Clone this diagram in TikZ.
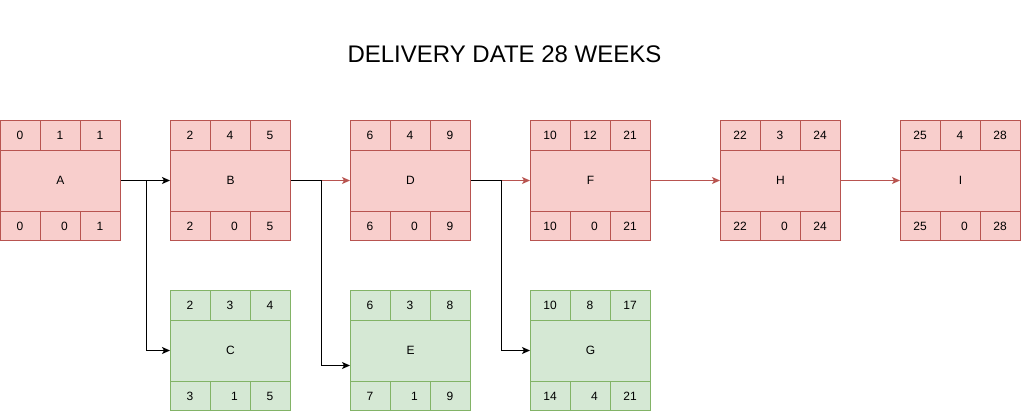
\documentclass[tikz,border=0pt]{standalone}
\usepackage{fontspec}
\setmainfont{Liberation Sans}
\usetikzlibrary{arrows.meta,positioning,calc}
\definecolor{critfill}{HTML}{F8CECC}
\definecolor{critline}{HTML}{B85450}
\definecolor{slackfill}{HTML}{D5E8D4}
\definecolor{slackline}{HTML}{82B366}
\tikzset{
    actbox/.style={rectangle, minimum width=120, minimum height=120, inner sep=0pt, line width=1pt, font=\fontsize{12}{14}\selectfont},
    critbox/.style={actbox, fill=critfill, draw=critline},
    slackbox/.style={actbox, fill=slackfill, draw=slackline},
    num/.style={inner sep=0pt, font=\fontsize{12}{14}\selectfont},
    link/.style={line width=1pt, -{Stealth[length=8pt,width=7pt,inset=2pt]}},
    critlink/.style={link, draw=critline, -{Stealth[length=8pt,width=7pt,inset=2pt,fill=critline]}},
}

\begin{document}
\begin{tikzpicture}[x=1pt,y=-1pt]
    \useasboundingbox (0,0) rectangle (1022,412);

    % Title
    \node[anchor=base, font=\fontsize{24}{29}\selectfont] (title) at (504.5,63) {DELIVERY DATE 28 WEEKS};

    % Critical path
    \foreach \n/\x/\y/\a/\b/\c/\d/\e/\f in {A/0.5/120.5/0/1/1/0/0/1, B/170.5/120.5/2/4/5/2/0/5, D/350.5/120.5/6/4/9/6/0/9,
        F/530.5/120.5/10/12/21/10/0/21, H/720.5/120.5/22/3/24/22/0/24, I/900.5/120.5/25/4/28/25/0/28} {
        \node[critbox] (\n) at (\x+60,\y+60) {\n};
        \draw[critline, line width=1pt] (\n.north west) ++(0,30) -- ++(120,0)
            (\n.south west) ++(0,-30) -- ++(120,0)
            (\n.north west) ++(40,0) -- ++(0,30) ++(40,0) -- ++(0,-30)
            (\n.south west) ++(40,0) -- ++(0,-30) ++(40,0) -- ++(0,30);
        \node[num] (\n-es) at ([shift={(20,15)}]\n.north west) {\a};
        \node[num] (\n-du) at ([shift={(60,15)}]\n.north west) {\b};
        \node[num] (\n-ef) at ([shift={(100,15)}]\n.north west) {\c};
        \node[num] (\n-ls) at ([shift={(20,-15)}]\n.south west) {\d};
        \node[num] (\n-fl) at ([shift={(64.5,-15)}]\n.south west) {\e};
        \node[num] (\n-lf) at ([shift={(100,-15)}]\n.south west) {\f};
    }

    % Activities with float
    \foreach \n/\x/\y/\a/\b/\c/\d/\e/\f in {C/170.5/290.5/2/3/4/3/1/5, E/350.5/290.5/6/3/8/7/1/9, G/530.5/290.5/10/8/17/14/4/21} {
        \node[slackbox] (\n) at (\x+60,\y+60) {\n};
        \draw[slackline, line width=1pt] (\n.north west) ++(0,30) -- ++(120,0)
            (\n.south west) ++(0,-30) -- ++(120,0)
            (\n.north west) ++(40,0) -- ++(0,30) ++(40,0) -- ++(0,-30)
            (\n.south west) ++(40,0) -- ++(0,-30) ++(40,0) -- ++(0,30);
        \node[num] (\n-es) at ([shift={(20,15)}]\n.north west) {\a};
        \node[num] (\n-du) at ([shift={(60,15)}]\n.north west) {\b};
        \node[num] (\n-ef) at ([shift={(100,15)}]\n.north west) {\c};
        \node[num] (\n-ls) at ([shift={(20,-15)}]\n.south west) {\d};
        \node[num] (\n-fl) at ([shift={(64.5,-15)}]\n.south west) {\e};
        \node[num] (\n-lf) at ([shift={(100,-15)}]\n.south west) {\f};
    }

    % Links
    \draw[critlink] (B) -- (D);
    \draw[critlink] (D) -- (F);
    \draw[critlink] (F) -- (H);
    \draw[critlink] (H) -- (I);
    \draw[link] (A) -- (B);
    \draw[link] (A.east) -- ++(25,0) |- (C.west);
    \draw[link] (B.east) -- ++(30,0) |- ([shift={(0,15)}]E.west);
    \draw[link] (D.east) -- ++(30,0) |- (G.west);
\end{tikzpicture}
\end{document}
